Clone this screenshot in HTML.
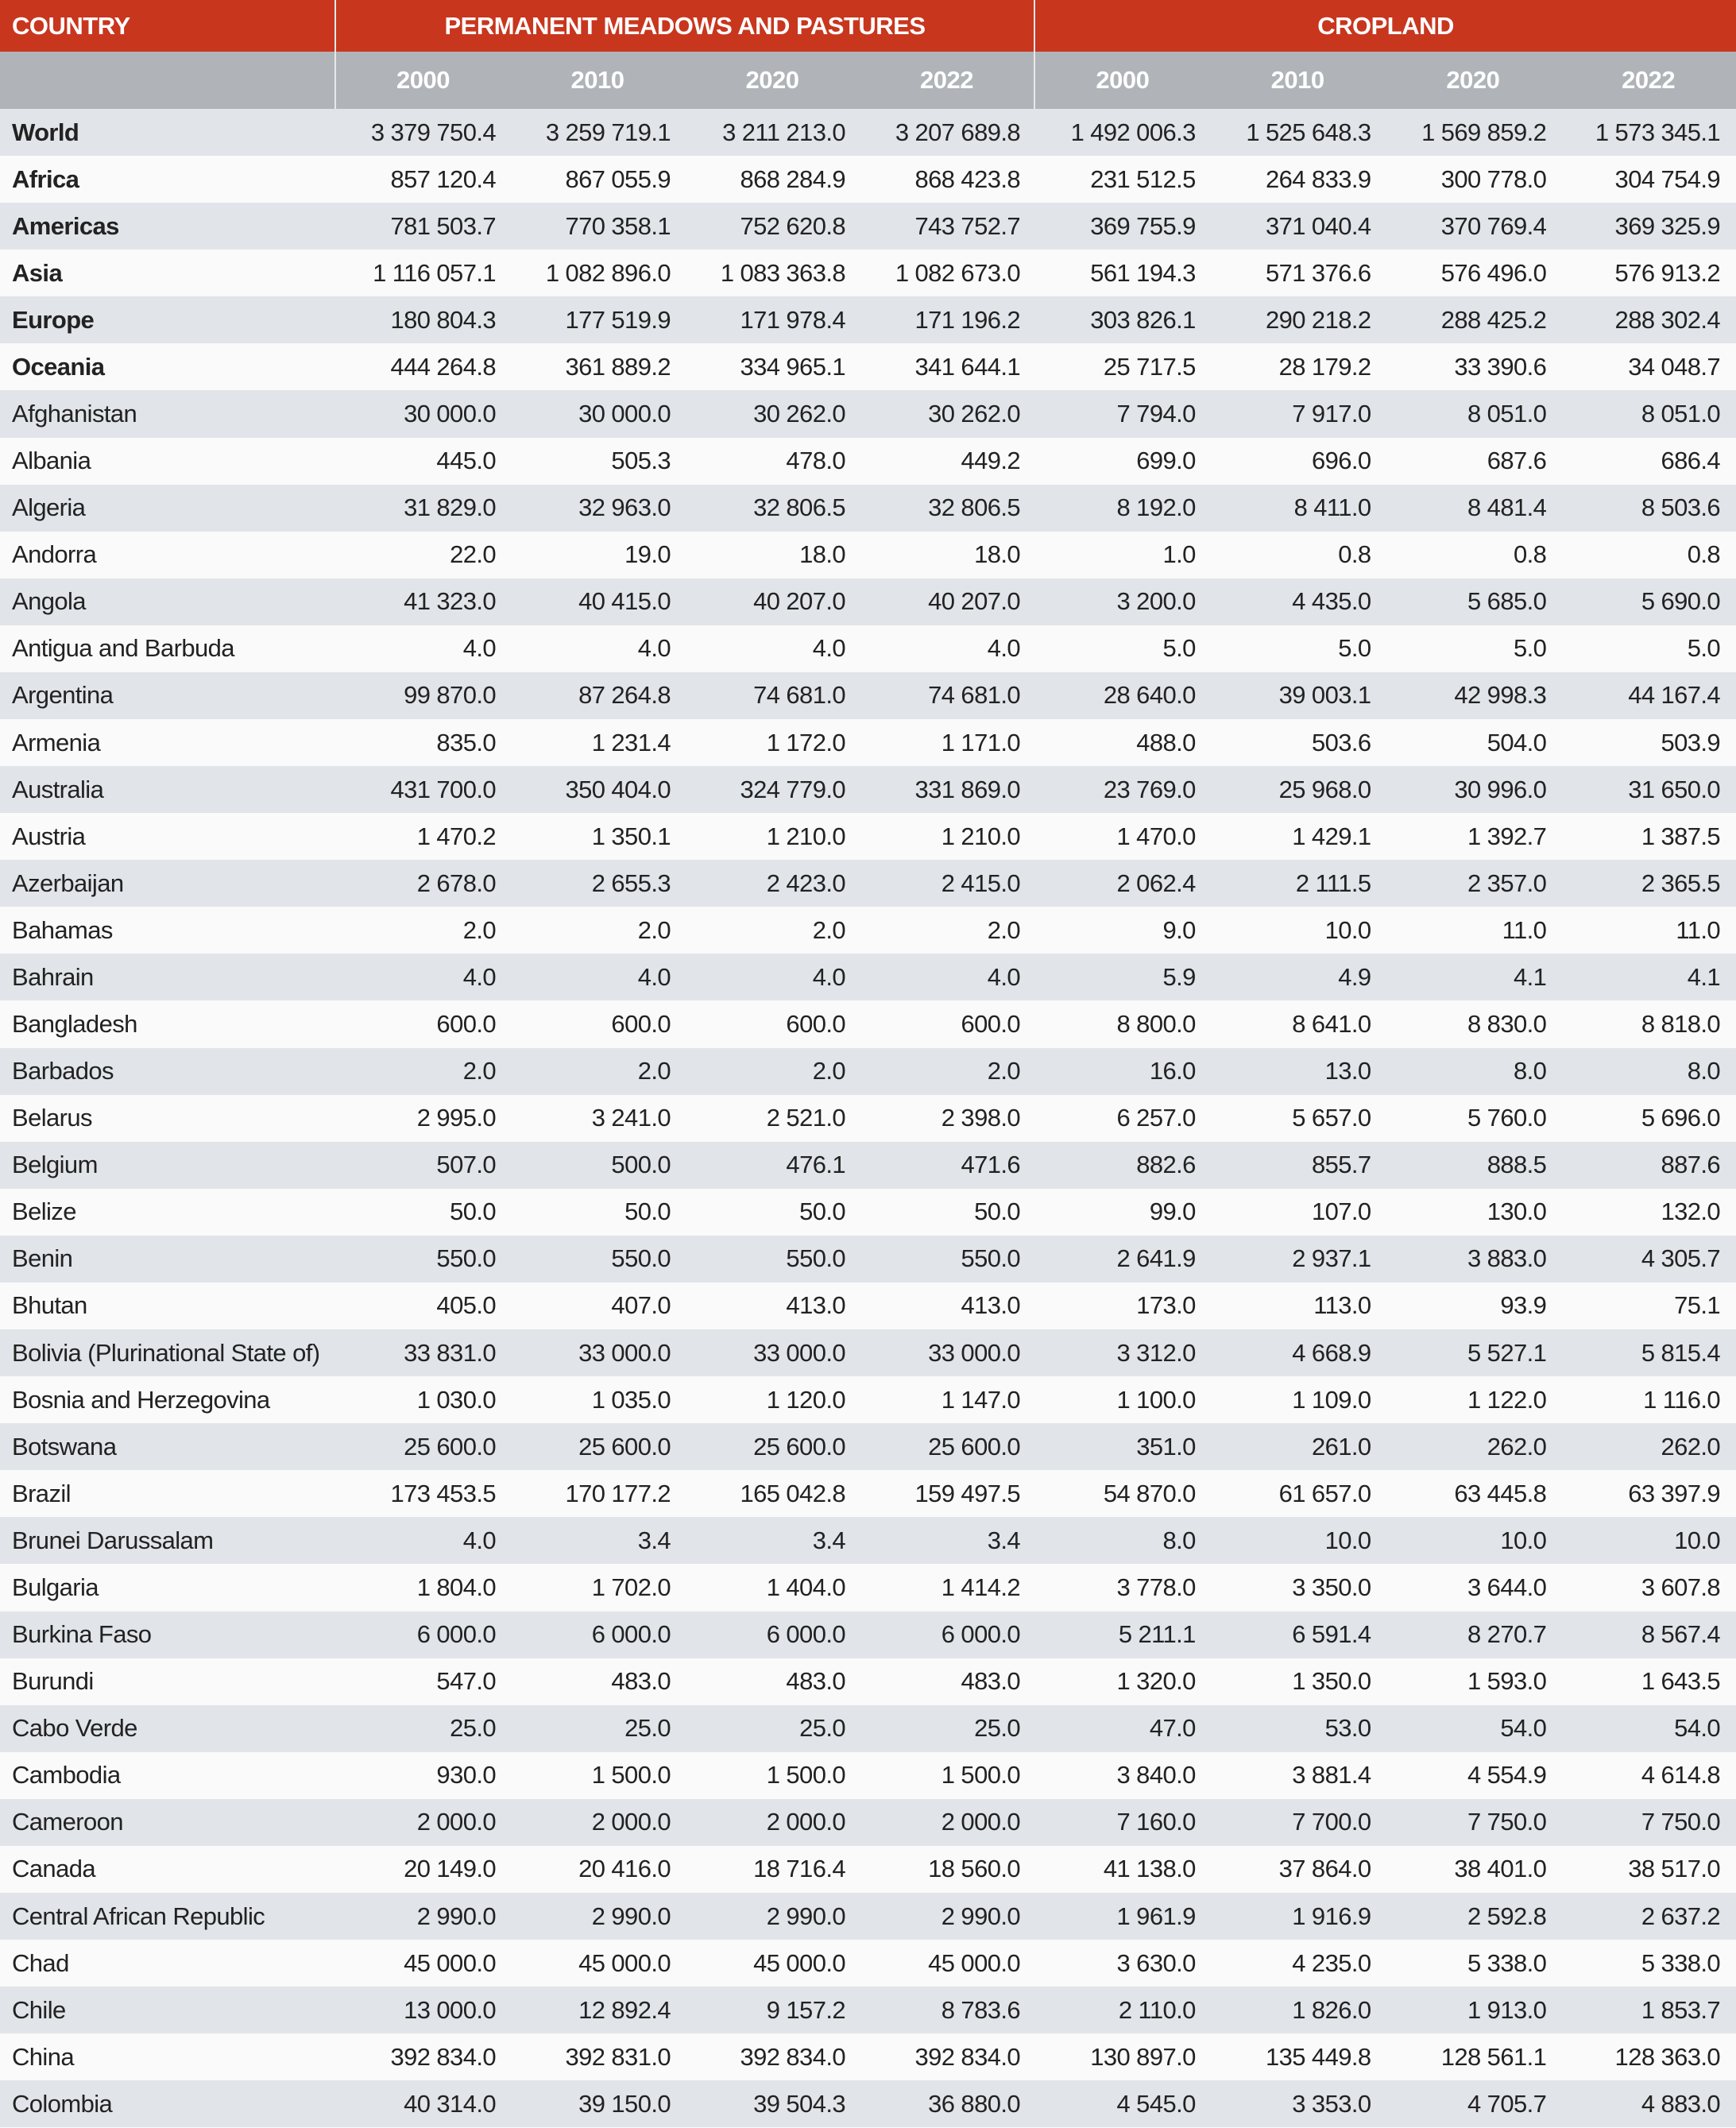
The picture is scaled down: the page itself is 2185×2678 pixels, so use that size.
<!DOCTYPE html>
<html><head><meta charset="utf-8"><style>
*{margin:0;padding:0;box-sizing:border-box}
body{width:2185px;height:2678px;background:#fafafa;font-family:"Liberation Sans",sans-serif;overflow:hidden}
table{border-collapse:collapse;table-layout:fixed;width:2185px}
col.c{width:422px}col.p{width:220px}col.q{width:220.75px}
th{color:#fff;font-weight:bold;font-size:31px;letter-spacing:-0.5px}
tr.h1 th{background:#c8361e;height:65px}
tr.h2 th{background:#b0b4b9;height:72px}
th.l{text-align:left;padding-left:15px}
th.b{border-left:2px solid #e8e8e8}
td{height:59.09px;font-size:31px;color:#222;text-align:right;padding-right:18px;white-space:nowrap;letter-spacing:-0.6px}
td:first-child{text-align:left;padding-left:15px;padding-right:0}
td.e{padding-right:20px}
tbody tr:nth-child(odd){background:#e1e4e8}
tbody tr:nth-child(even){background:#fafafa}
tr.r td:first-child{font-weight:bold}
</style></head><body>
<table>
<colgroup><col class="c"><col class="p"><col class="p"><col class="p"><col class="p"><col class="q"><col class="q"><col class="q"><col class="q"></colgroup>
<thead>
<tr class="h1"><th class="l">COUNTRY</th><th colspan="4" class="b">PERMANENT MEADOWS AND PASTURES</th><th colspan="4" class="b">CROPLAND</th></tr>
<tr class="h2"><th></th><th class="b">2000</th><th>2010</th><th>2020</th><th>2022</th><th class="b">2000</th><th>2010</th><th>2020</th><th>2022</th></tr>
</thead>
<tbody>
<tr class="r"><td>World</td><td>3 379 750.4</td><td>3 259 719.1</td><td>3 211 213.0</td><td>3 207 689.8</td><td>1 492 006.3</td><td>1 525 648.3</td><td>1 569 859.2</td><td class="e">1 573 345.1</td></tr>
<tr class="r"><td>Africa</td><td>857 120.4</td><td>867 055.9</td><td>868 284.9</td><td>868 423.8</td><td>231 512.5</td><td>264 833.9</td><td>300 778.0</td><td class="e">304 754.9</td></tr>
<tr class="r"><td>Americas</td><td>781 503.7</td><td>770 358.1</td><td>752 620.8</td><td>743 752.7</td><td>369 755.9</td><td>371 040.4</td><td>370 769.4</td><td class="e">369 325.9</td></tr>
<tr class="r"><td>Asia</td><td>1 116 057.1</td><td>1 082 896.0</td><td>1 083 363.8</td><td>1 082 673.0</td><td>561 194.3</td><td>571 376.6</td><td>576 496.0</td><td class="e">576 913.2</td></tr>
<tr class="r"><td>Europe</td><td>180 804.3</td><td>177 519.9</td><td>171 978.4</td><td>171 196.2</td><td>303 826.1</td><td>290 218.2</td><td>288 425.2</td><td class="e">288 302.4</td></tr>
<tr class="r"><td>Oceania</td><td>444 264.8</td><td>361 889.2</td><td>334 965.1</td><td>341 644.1</td><td>25 717.5</td><td>28 179.2</td><td>33 390.6</td><td class="e">34 048.7</td></tr>
<tr><td>Afghanistan</td><td>30 000.0</td><td>30 000.0</td><td>30 262.0</td><td>30 262.0</td><td>7 794.0</td><td>7 917.0</td><td>8 051.0</td><td class="e">8 051.0</td></tr>
<tr><td>Albania</td><td>445.0</td><td>505.3</td><td>478.0</td><td>449.2</td><td>699.0</td><td>696.0</td><td>687.6</td><td class="e">686.4</td></tr>
<tr><td>Algeria</td><td>31 829.0</td><td>32 963.0</td><td>32 806.5</td><td>32 806.5</td><td>8 192.0</td><td>8 411.0</td><td>8 481.4</td><td class="e">8 503.6</td></tr>
<tr><td>Andorra</td><td>22.0</td><td>19.0</td><td>18.0</td><td>18.0</td><td>1.0</td><td>0.8</td><td>0.8</td><td class="e">0.8</td></tr>
<tr><td>Angola</td><td>41 323.0</td><td>40 415.0</td><td>40 207.0</td><td>40 207.0</td><td>3 200.0</td><td>4 435.0</td><td>5 685.0</td><td class="e">5 690.0</td></tr>
<tr><td>Antigua and Barbuda</td><td>4.0</td><td>4.0</td><td>4.0</td><td>4.0</td><td>5.0</td><td>5.0</td><td>5.0</td><td class="e">5.0</td></tr>
<tr><td>Argentina</td><td>99 870.0</td><td>87 264.8</td><td>74 681.0</td><td>74 681.0</td><td>28 640.0</td><td>39 003.1</td><td>42 998.3</td><td class="e">44 167.4</td></tr>
<tr><td>Armenia</td><td>835.0</td><td>1 231.4</td><td>1 172.0</td><td>1 171.0</td><td>488.0</td><td>503.6</td><td>504.0</td><td class="e">503.9</td></tr>
<tr><td>Australia</td><td>431 700.0</td><td>350 404.0</td><td>324 779.0</td><td>331 869.0</td><td>23 769.0</td><td>25 968.0</td><td>30 996.0</td><td class="e">31 650.0</td></tr>
<tr><td>Austria</td><td>1 470.2</td><td>1 350.1</td><td>1 210.0</td><td>1 210.0</td><td>1 470.0</td><td>1 429.1</td><td>1 392.7</td><td class="e">1 387.5</td></tr>
<tr><td>Azerbaijan</td><td>2 678.0</td><td>2 655.3</td><td>2 423.0</td><td>2 415.0</td><td>2 062.4</td><td>2 111.5</td><td>2 357.0</td><td class="e">2 365.5</td></tr>
<tr><td>Bahamas</td><td>2.0</td><td>2.0</td><td>2.0</td><td>2.0</td><td>9.0</td><td>10.0</td><td>11.0</td><td class="e">11.0</td></tr>
<tr><td>Bahrain</td><td>4.0</td><td>4.0</td><td>4.0</td><td>4.0</td><td>5.9</td><td>4.9</td><td>4.1</td><td class="e">4.1</td></tr>
<tr><td>Bangladesh</td><td>600.0</td><td>600.0</td><td>600.0</td><td>600.0</td><td>8 800.0</td><td>8 641.0</td><td>8 830.0</td><td class="e">8 818.0</td></tr>
<tr><td>Barbados</td><td>2.0</td><td>2.0</td><td>2.0</td><td>2.0</td><td>16.0</td><td>13.0</td><td>8.0</td><td class="e">8.0</td></tr>
<tr><td>Belarus</td><td>2 995.0</td><td>3 241.0</td><td>2 521.0</td><td>2 398.0</td><td>6 257.0</td><td>5 657.0</td><td>5 760.0</td><td class="e">5 696.0</td></tr>
<tr><td>Belgium</td><td>507.0</td><td>500.0</td><td>476.1</td><td>471.6</td><td>882.6</td><td>855.7</td><td>888.5</td><td class="e">887.6</td></tr>
<tr><td>Belize</td><td>50.0</td><td>50.0</td><td>50.0</td><td>50.0</td><td>99.0</td><td>107.0</td><td>130.0</td><td class="e">132.0</td></tr>
<tr><td>Benin</td><td>550.0</td><td>550.0</td><td>550.0</td><td>550.0</td><td>2 641.9</td><td>2 937.1</td><td>3 883.0</td><td class="e">4 305.7</td></tr>
<tr><td>Bhutan</td><td>405.0</td><td>407.0</td><td>413.0</td><td>413.0</td><td>173.0</td><td>113.0</td><td>93.9</td><td class="e">75.1</td></tr>
<tr><td>Bolivia (Plurinational State of)</td><td>33 831.0</td><td>33 000.0</td><td>33 000.0</td><td>33 000.0</td><td>3 312.0</td><td>4 668.9</td><td>5 527.1</td><td class="e">5 815.4</td></tr>
<tr><td>Bosnia and Herzegovina</td><td>1 030.0</td><td>1 035.0</td><td>1 120.0</td><td>1 147.0</td><td>1 100.0</td><td>1 109.0</td><td>1 122.0</td><td class="e">1 116.0</td></tr>
<tr><td>Botswana</td><td>25 600.0</td><td>25 600.0</td><td>25 600.0</td><td>25 600.0</td><td>351.0</td><td>261.0</td><td>262.0</td><td class="e">262.0</td></tr>
<tr><td>Brazil</td><td>173 453.5</td><td>170 177.2</td><td>165 042.8</td><td>159 497.5</td><td>54 870.0</td><td>61 657.0</td><td>63 445.8</td><td class="e">63 397.9</td></tr>
<tr><td>Brunei Darussalam</td><td>4.0</td><td>3.4</td><td>3.4</td><td>3.4</td><td>8.0</td><td>10.0</td><td>10.0</td><td class="e">10.0</td></tr>
<tr><td>Bulgaria</td><td>1 804.0</td><td>1 702.0</td><td>1 404.0</td><td>1 414.2</td><td>3 778.0</td><td>3 350.0</td><td>3 644.0</td><td class="e">3 607.8</td></tr>
<tr><td>Burkina Faso</td><td>6 000.0</td><td>6 000.0</td><td>6 000.0</td><td>6 000.0</td><td>5 211.1</td><td>6 591.4</td><td>8 270.7</td><td class="e">8 567.4</td></tr>
<tr><td>Burundi</td><td>547.0</td><td>483.0</td><td>483.0</td><td>483.0</td><td>1 320.0</td><td>1 350.0</td><td>1 593.0</td><td class="e">1 643.5</td></tr>
<tr><td>Cabo Verde</td><td>25.0</td><td>25.0</td><td>25.0</td><td>25.0</td><td>47.0</td><td>53.0</td><td>54.0</td><td class="e">54.0</td></tr>
<tr><td>Cambodia</td><td>930.0</td><td>1 500.0</td><td>1 500.0</td><td>1 500.0</td><td>3 840.0</td><td>3 881.4</td><td>4 554.9</td><td class="e">4 614.8</td></tr>
<tr><td>Cameroon</td><td>2 000.0</td><td>2 000.0</td><td>2 000.0</td><td>2 000.0</td><td>7 160.0</td><td>7 700.0</td><td>7 750.0</td><td class="e">7 750.0</td></tr>
<tr><td>Canada</td><td>20 149.0</td><td>20 416.0</td><td>18 716.4</td><td>18 560.0</td><td>41 138.0</td><td>37 864.0</td><td>38 401.0</td><td class="e">38 517.0</td></tr>
<tr><td>Central African Republic</td><td>2 990.0</td><td>2 990.0</td><td>2 990.0</td><td>2 990.0</td><td>1 961.9</td><td>1 916.9</td><td>2 592.8</td><td class="e">2 637.2</td></tr>
<tr><td>Chad</td><td>45 000.0</td><td>45 000.0</td><td>45 000.0</td><td>45 000.0</td><td>3 630.0</td><td>4 235.0</td><td>5 338.0</td><td class="e">5 338.0</td></tr>
<tr><td>Chile</td><td>13 000.0</td><td>12 892.4</td><td>9 157.2</td><td>8 783.6</td><td>2 110.0</td><td>1 826.0</td><td>1 913.0</td><td class="e">1 853.7</td></tr>
<tr><td>China</td><td>392 834.0</td><td>392 831.0</td><td>392 834.0</td><td>392 834.0</td><td>130 897.0</td><td>135 449.8</td><td>128 561.1</td><td class="e">128 363.0</td></tr>
<tr><td>Colombia</td><td>40 314.0</td><td>39 150.0</td><td>39 504.3</td><td>36 880.0</td><td>4 545.0</td><td>3 353.0</td><td>4 705.7</td><td class="e">4 883.0</td></tr>
</tbody></table>
</body></html>
